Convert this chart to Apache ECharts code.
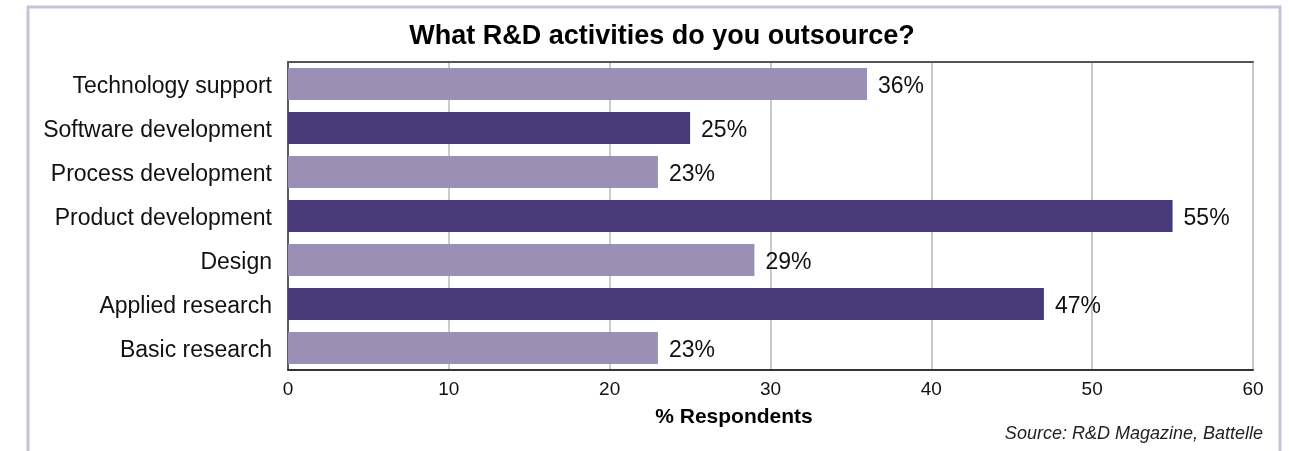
<!DOCTYPE html>
<html>
<head>
<meta charset="utf-8">
<script src="https://cdn.jsdelivr.net/npm/echarts@6/dist/echarts.min.js"></script>
<style>
  html, body { margin: 0; padding: 0; background: #fff; }
  #chart { width: 1289px; height: 451px; }
</style>
</head>
<body>
<div id="chart"></div>
<script>
// Survey answers, listed top to bottom
const categories = [
  'Technology support',
  'Software development',
  'Process development',
  'Product development',
  'Design',
  'Applied research',
  'Basic research'
];
const respondents = [36, 25, 23, 55, 29, 47, 23];
const xTicks = [0, 10, 20, 30, 40, 50, 60];

const LIGHT = '#9b8fb5';
const DARK = '#48397b';
const FONT = '"Liberation Sans", Arial, Helvetica, sans-serif';

const chart = echarts.init(document.getElementById('chart'), null, { renderer: 'canvas' });

chart.setOption({
  backgroundColor: '#fff',
  animation: false,
  title: {
    text: 'What R&D activities do you outsource?',
    left: 657,
    textAlign: 'center',
    top: 18,
    textStyle: { fontFamily: FONT, fontSize: 27, fontWeight: 'bold', color: '#000' }
  },
  graphic: [
    {
      type: 'rect',
      shape: { x: 28, y: 7, width: 1252, height: 470 },
      style: { fill: 'none', stroke: '#c9c1dc', lineWidth: 3 },
      silent: true
    },
    {
      type: 'text',
      x: 734,
      y: 417,
      style: {
        text: '% Respondents',
        font: 'bold 21px ' + FONT,
        fill: '#000',
        align: 'center',
        verticalAlign: 'middle'
      }
    },
    {
      type: 'text',
      x: 1263,
      y: 434,
      style: {
        text: 'Source: R&D Magazine, Battelle',
        font: 'italic 18px ' + FONT,
        fill: '#222',
        align: 'right',
        verticalAlign: 'middle'
      }
    }
  ],
  grid: { left: 288, right: 36, top: 62, bottom: 81, containLabel: false },
  xAxis: [
    {
      type: 'value',
      min: xTicks[0],
      max: xTicks[xTicks.length - 1],
      interval: 10,
      position: 'bottom',
      axisLine: { show: true, lineStyle: { color: '#333', width: 2 } },
      axisTick: { show: false },
      axisLabel: { fontFamily: FONT, fontSize: 19, color: '#111', margin: 10 },
      splitLine: { show: true, lineStyle: { color: '#b8b8b8', width: 1.5 } }
    },
    {
      type: 'value',
      min: xTicks[0],
      max: xTicks[xTicks.length - 1],
      interval: 10,
      position: 'top',
      axisLine: { show: true, lineStyle: { color: '#555', width: 2 } },
      axisTick: { show: false },
      axisLabel: { show: false },
      splitLine: { show: false }
    }
  ],
  yAxis: {
    type: 'category',
    data: categories,
    inverse: true,
    axisLine: { show: true, lineStyle: { color: '#333', width: 1.5 } },
    axisTick: { show: false },
    axisLabel: {
      margin: 16,
      // nudge the category names down onto the bar centres
      formatter: v => '{c|' + v + '}',
      rich: {
        c: { fontFamily: FONT, fontSize: 23, color: '#111', padding: [6, 0, 0, 0] }
      }
    }
  },
  series: [{
    type: 'bar',
    xAxisIndex: 0,
    data: respondents.map((v, i) => ({
      value: v,
      itemStyle: { color: i % 2 === 0 ? LIGHT : DARK }
    })),
    barCategoryGap: '27%',
    label: {
      show: true,
      position: 'right',
      distance: 11,
      offset: [0, 3],
      formatter: p => p.value + '%',
      fontFamily: FONT,
      fontSize: 23,
      color: '#111'
    }
  }]
});
</script>
</body>
</html>
